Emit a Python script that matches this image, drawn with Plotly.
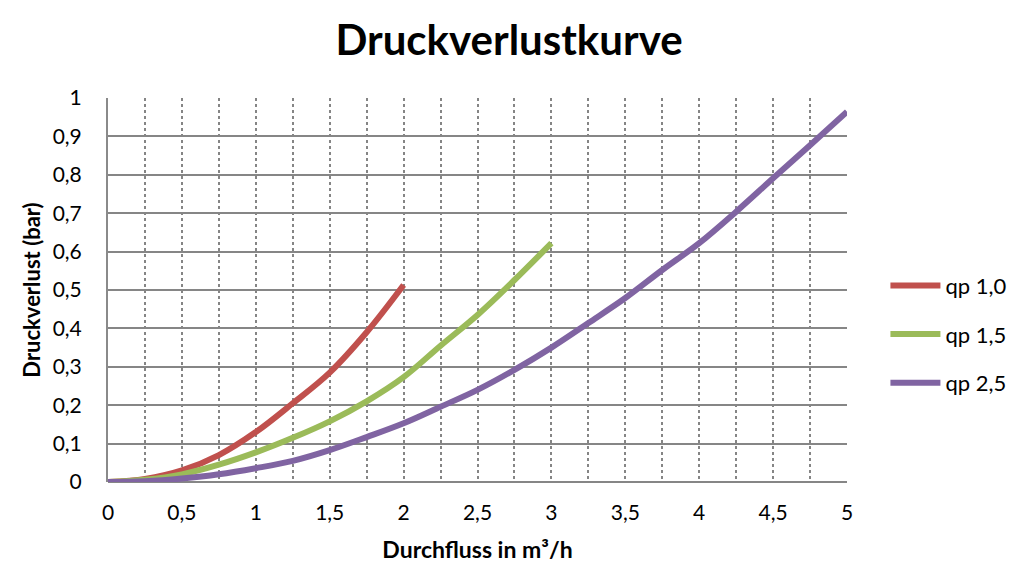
import plotly.graph_objects as go

x_red = [0, 0.25, 0.5, 0.75, 1.0, 1.25, 1.5, 1.75, 2.0]
y_red = [0, 0.008, 0.03, 0.07, 0.13, 0.205, 0.285, 0.39, 0.513]

x_green = [0, 0.25, 0.5, 0.75, 1.0, 1.25, 1.5, 1.75, 2.0, 2.25, 2.5, 2.75, 3.0]
y_green = [0, 0.006, 0.02, 0.045, 0.077, 0.115, 0.158, 0.21, 0.273, 0.355, 0.435, 0.526, 0.622]

x_purple = [0, 0.25, 0.5, 0.75, 1.0, 1.25, 1.5, 1.75, 2.0, 2.25, 2.5, 2.75, 3.0,
            3.25, 3.5, 3.75, 4.0, 4.25, 4.5, 4.75, 5.0]
y_purple = [0, 0.002, 0.009, 0.02, 0.036, 0.055, 0.083, 0.117, 0.153, 0.196, 0.24,
            0.292, 0.35, 0.414, 0.479, 0.552, 0.622, 0.704, 0.791, 0.877, 0.964]

names = ["qp 1,0", "qp 1,5", "qp 2,5"]
colors = ["#C0504D", "#9BBB59", "#8064A2"]

FONT = "Lato"
fig = go.Figure()
for i, (xs, ys) in enumerate([(x_red, y_red), (x_green, y_green), (x_purple, y_purple)]):
    fig.add_trace(go.Scatter(x=xs, y=ys, mode="lines", name=names[i],
                             legendgroup=f"g{i}",
                             line=dict(color=colors[i], width=6, shape="spline")))

# page body has an 8px margin, so the figure is shrunk by 8px and offsets reduced
W, H = 1026, 575
L, T = 100, 90
PW, PH = 739, 384

fig.update_layout(
    width=W, height=H,
    paper_bgcolor="white", plot_bgcolor="white",
    separators=", ",
    margin=dict(l=L, r=W - L - PW, t=T, b=H - T - PH, autoexpand=False),
    font=dict(family=FONT, size=21, color="black"),
    title=dict(text="<b>Druckverlustkurve</b>", x=(509 - 8) / W, xanchor="center",
               yref="container", y=1 - (40 - 8) / H, yanchor="middle",
               font=dict(family=FONT, size=42, color="black")),
    legend=dict(x=1.052, xanchor="left", y=0.385, yanchor="middle",
                font=dict(family=FONT, size=22), tracegroupgap=17,
                traceorder="grouped", itemwidth=50),
    xaxis=dict(range=[0, 5], dtick=0.5, tick0=0, showline=False, automargin=False,
               showgrid=True, gridcolor="#858585", griddash="dot", gridwidth=2,
               zeroline=False, ticks="", ticklabelstandoff=16,
               minor=dict(dtick=0.25, showgrid=True, gridcolor="#858585",
                          griddash="dot", gridwidth=2),
               title=dict(text="<b>Durchfluss in m³/h</b>", standoff=18,
                          font=dict(family=FONT, size=23))),
    yaxis=dict(range=[0, 1], dtick=0.1, tick0=0, showline=True, linecolor="#8a8a8a",
               linewidth=2, showgrid=True, gridcolor="#868686", gridwidth=2,
               zeroline=True, zerolinecolor="#868686", zerolinewidth=2,
               ticks="", ticklabelstandoff=20, automargin=True,
               title=dict(text="<b>Druckverlust (bar)</b>", standoff=6,
                          font=dict(family=FONT, size=22))),
)

fig.write_html("out.html")
